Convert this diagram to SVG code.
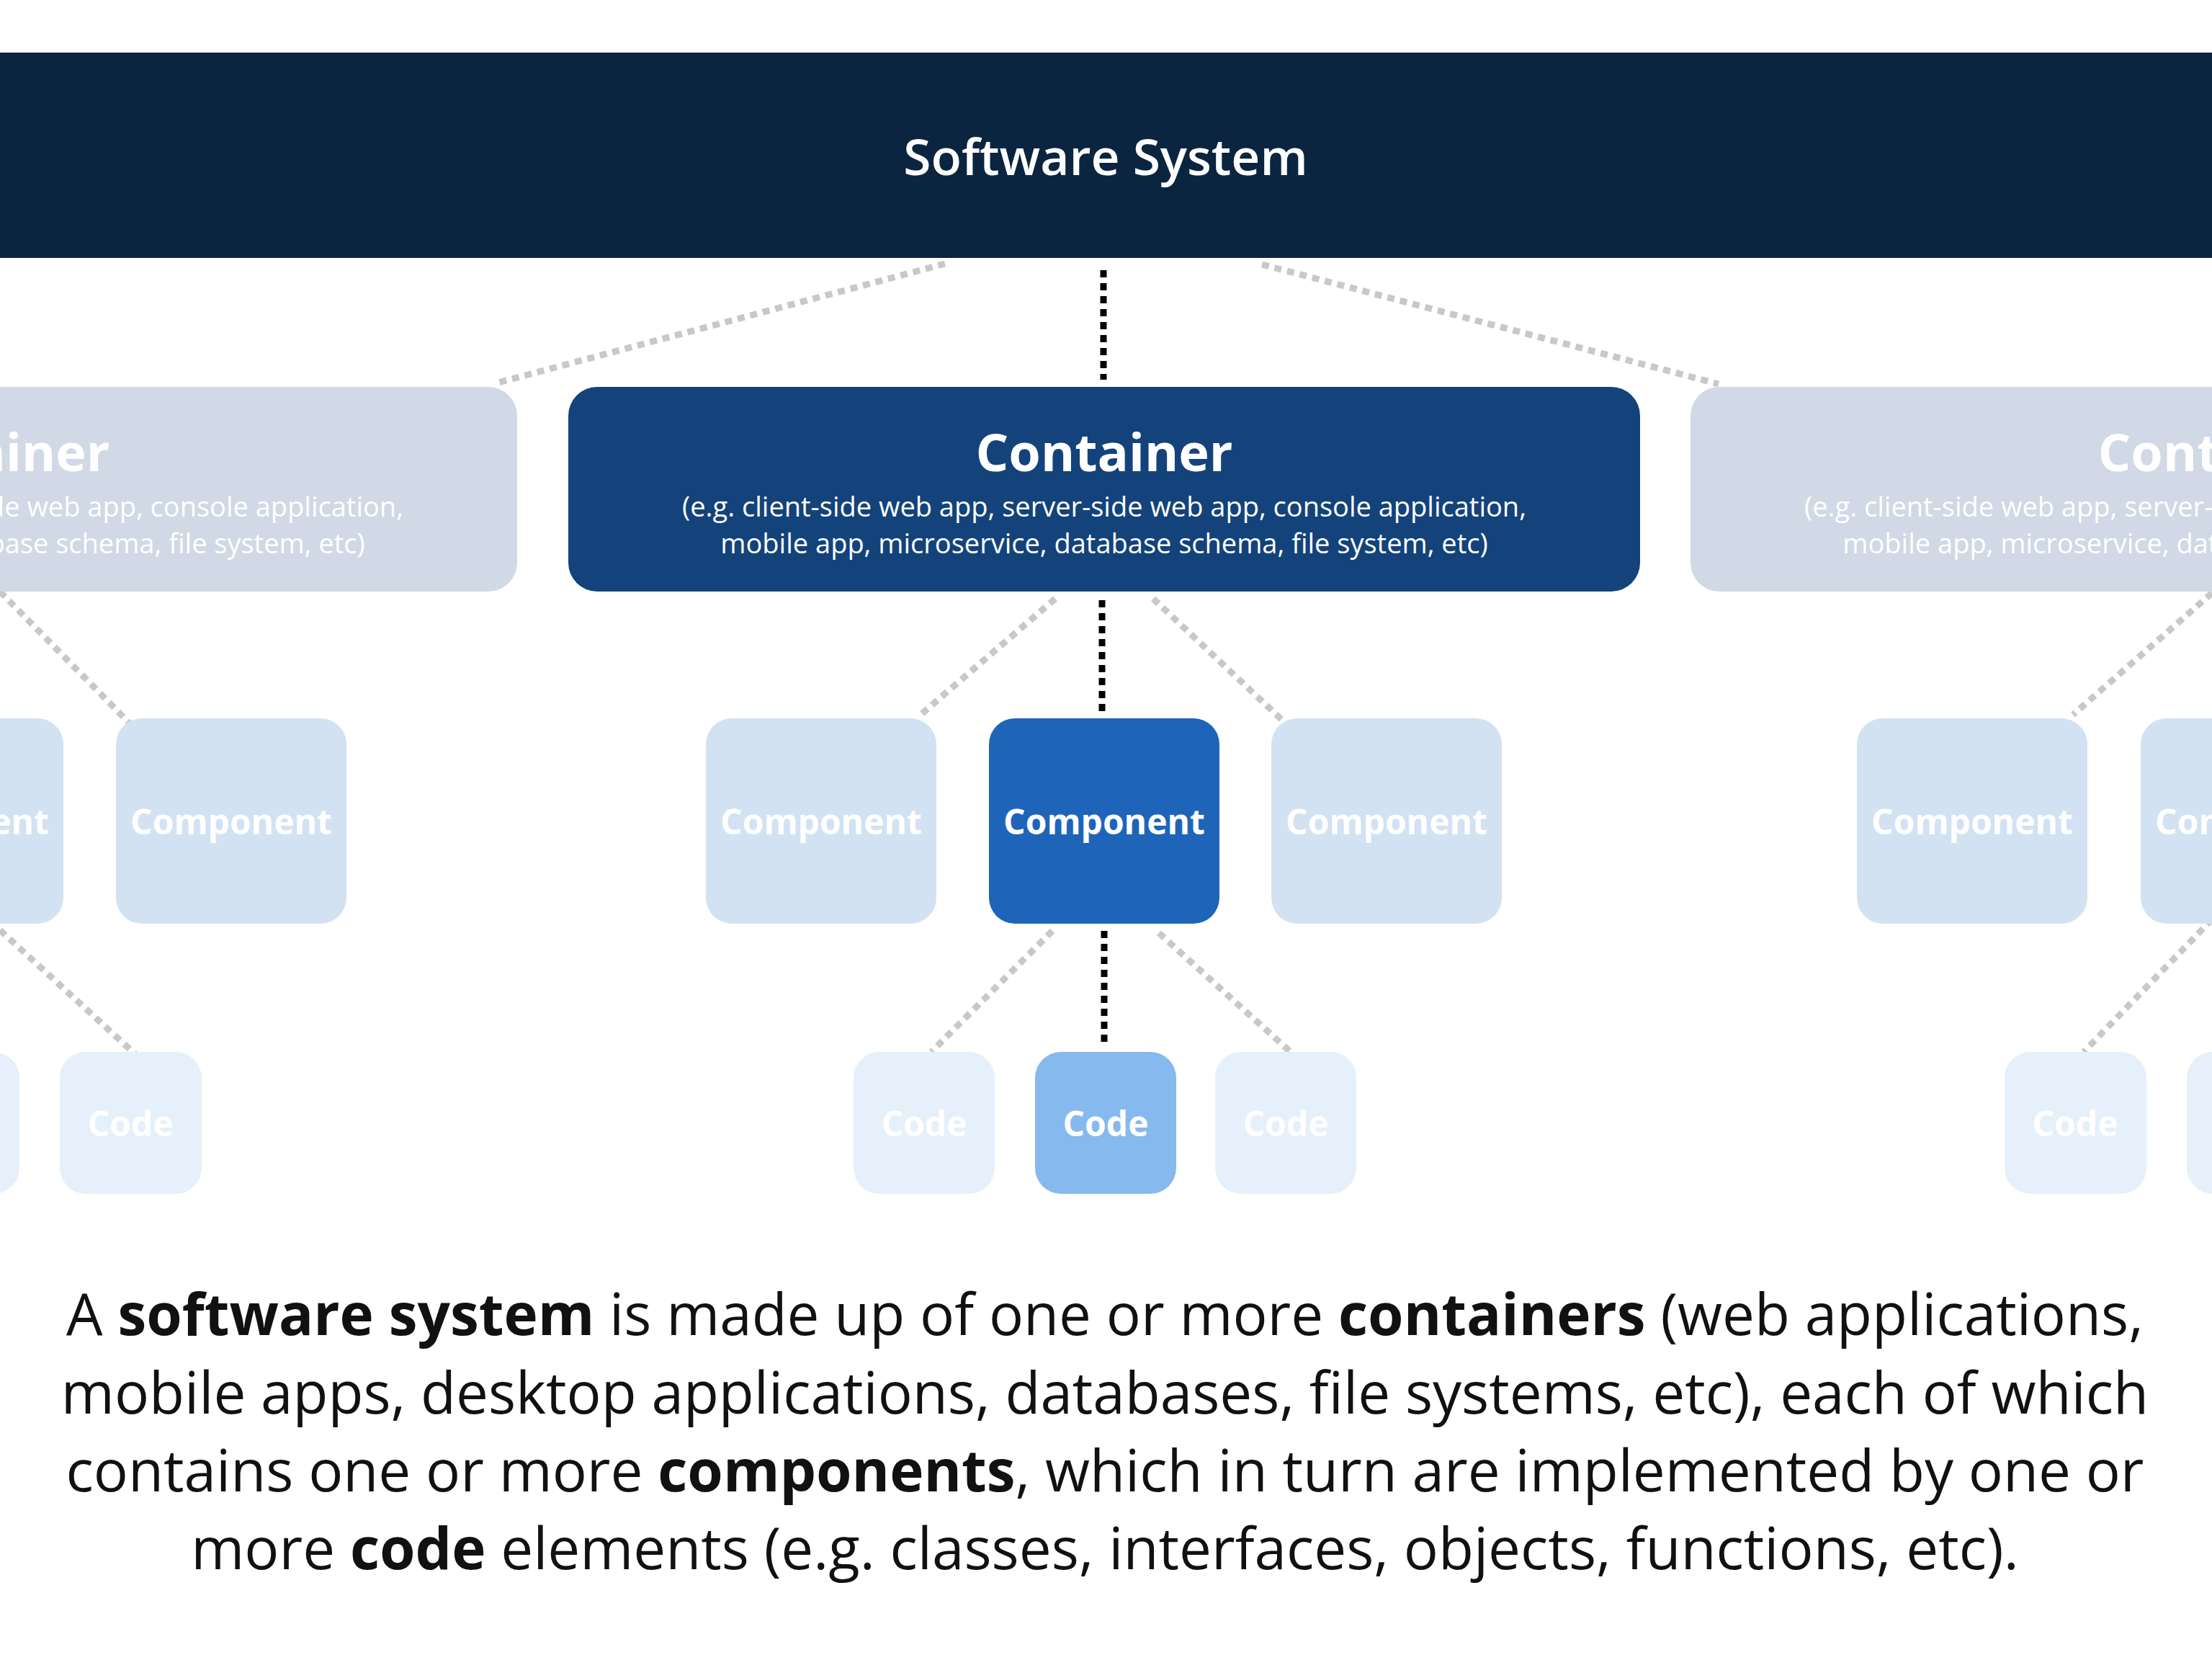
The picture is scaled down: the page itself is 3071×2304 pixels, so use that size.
<svg xmlns="http://www.w3.org/2000/svg" width="3071" height="2304" viewBox="0 0 3071 2304">
<style>
  .t { font-family: "Open Sans", "Noto Sans", "Liberation Sans", sans-serif; fill: #ffffff; text-anchor: middle; }
  .sys { font-size: 69.5px; font-weight: 600; }
  .ctitle { font-size: 72px; font-weight: 700; }
  .csub { font-size: 38px; font-weight: 400; }
  .lbl { font-size: 48px; font-weight: 700; }
  .cont { fill: #13437a; }
  .cont-f { fill: #d0d9e5; }
  .comp { fill: #1e65b9; }
  .comp-f { fill: #d3e2f2; }
  .code { fill: #86b9ee; }
  .code-f { fill: #e5f0fb; }
  .dk { stroke: #000000; stroke-width: 9; stroke-dasharray: 10 8; fill: none; }
  .gr { stroke: #c8c8c8; stroke-width: 9; stroke-dasharray: 10 8; fill: none; }
  .para { font-family: "Open Sans", "Noto Sans", "Liberation Sans", sans-serif; font-size: 80px; fill: #111111; text-anchor: middle; }
  .b { font-weight: 700; }
</style>
<rect x="0" y="0" width="3071" height="2304" fill="#ffffff"/>

<g id="connectors">
  <line class="dk" x1="1532" y1="375" x2="1532" y2="527"/>
  <line class="dk" x1="1530" y1="833" x2="1530" y2="987"/>
  <line class="dk" x1="1533" y1="1292" x2="1533" y2="1450"/>
  <line class="gr" x1="1312" y1="366" x2="688" y2="532"/>
  <line class="gr" x1="1752" y1="367" x2="2386" y2="533"/>
  <line class="gr" x1="1465" y1="831" x2="1277" y2="993"/>
  <line class="gr" x1="1601" y1="831" x2="1786" y2="1005"/>
  <line class="gr" x1="1461" y1="1292" x2="1293" y2="1460"/>
  <line class="gr" x1="1609" y1="1295" x2="1795" y2="1463"/>
  <line class="gr" x1="0" y1="821" x2="181" y2="1005"/>
  <line class="gr" x1="0" y1="1291" x2="191" y2="1466"/>
  <line class="gr" x1="3071" y1="823" x2="2878" y2="992"/>
  <line class="gr" x1="3071" y1="1276" x2="2893" y2="1460"/>
</g>

<g id="software-system">
  <rect x="0" y="73" width="3071" height="285" fill="#0b2540"/>
  <text class="t sys" x="1535" y="243">Software System</text>
</g>

<g id="container-left">
  <rect class="cont-f" x="-770" y="537" width="1488" height="284" rx="40"/>
  <text class="t ctitle" x="-26" y="654">Container</text>
  <text class="t csub" x="-26" y="717">(e.g. client-side web app, server-side web app, console application,</text>
  <text class="t csub" x="-26" y="768">mobile app, microservice, database schema, file system, etc)</text>
</g>
<g id="container-main">
  <rect class="cont" x="789" y="537" width="1488" height="284" rx="40"/>
  <text class="t ctitle" x="1533" y="654">Container</text>
  <text class="t csub" x="1533" y="717">(e.g. client-side web app, server-side web app, console application,</text>
  <text class="t csub" x="1533" y="768">mobile app, microservice, database schema, file system, etc)</text>
</g>
<g id="container-right">
  <rect class="cont-f" x="2347" y="537" width="1488" height="284" rx="40"/>
  <text class="t ctitle" x="3091" y="654">Container</text>
  <text class="t csub" x="3091" y="717">(e.g. client-side web app, server-side web app, console application,</text>
  <text class="t csub" x="3091" y="768">mobile app, microservice, database schema, file system, etc)</text>
</g>

<g id="component-l1">
  <rect class="comp-f" x="-232" y="997" width="320" height="285" rx="36"/>
  <text class="t lbl" x="-72" y="1158">Component</text>
</g>
<g id="component-l2">
  <rect class="comp-f" x="161" y="997" width="320" height="285" rx="36"/>
  <text class="t lbl" x="321" y="1158">Component</text>
</g>
<g id="component-c1">
  <rect class="comp-f" x="980" y="997" width="320" height="285" rx="36"/>
  <text class="t lbl" x="1140" y="1158">Component</text>
</g>
<g id="component-main">
  <rect class="comp" x="1373" y="997" width="320" height="285" rx="36"/>
  <text class="t lbl" x="1533" y="1158">Component</text>
</g>
<g id="component-c3">
  <rect class="comp-f" x="1765" y="997" width="320" height="285" rx="36"/>
  <text class="t lbl" x="1925" y="1158">Component</text>
</g>
<g id="component-r1">
  <rect class="comp-f" x="2578" y="997" width="320" height="285" rx="36"/>
  <text class="t lbl" x="2738" y="1158">Component</text>
</g>
<g id="component-r2">
  <rect class="comp-f" x="2972" y="997" width="320" height="285" rx="36"/>
  <text class="t lbl" x="3132" y="1158">Component</text>
</g>

<g id="code-l1">
  <rect class="code-f" x="-170" y="1460" width="197" height="197" rx="36"/>
  <text class="t lbl" x="-71" y="1577">Code</text>
</g>
<g id="code-l2">
  <rect class="code-f" x="83" y="1460" width="197" height="197" rx="36"/>
  <text class="t lbl" x="181" y="1577">Code</text>
</g>
<g id="code-c1">
  <rect class="code-f" x="1185" y="1460" width="196" height="197" rx="36"/>
  <text class="t lbl" x="1283" y="1577">Code</text>
</g>
<g id="code-main">
  <rect class="code" x="1437" y="1460" width="196" height="197" rx="36"/>
  <text class="t lbl" x="1535" y="1577">Code</text>
</g>
<g id="code-c3">
  <rect class="code-f" x="1687" y="1460" width="196" height="197" rx="36"/>
  <text class="t lbl" x="1785" y="1577">Code</text>
</g>
<g id="code-r1">
  <rect class="code-f" x="2783" y="1460" width="197" height="197" rx="36"/>
  <text class="t lbl" x="2881" y="1577">Code</text>
</g>
<g id="code-r2">
  <rect class="code-f" x="3036" y="1460" width="197" height="197" rx="36"/>
  <text class="t lbl" x="3134" y="1577">Code</text>
</g>

<g id="caption">
  <text class="para" x="1534" y="1853">A <tspan class="b">software system</tspan> is made up of one or more <tspan class="b">containers</tspan> (web applications,</text>
  <text class="para" x="1534" y="1962">mobile apps, desktop applications, databases, file systems, etc), each of which</text>
  <text class="para" x="1534" y="2070">contains one or more <tspan class="b">components</tspan>, which in turn are implemented by one or</text>
  <text class="para" x="1534" y="2178">more <tspan class="b">code</tspan> elements (e.g. classes, interfaces, objects, functions, etc).</text>
</g>
</svg>
